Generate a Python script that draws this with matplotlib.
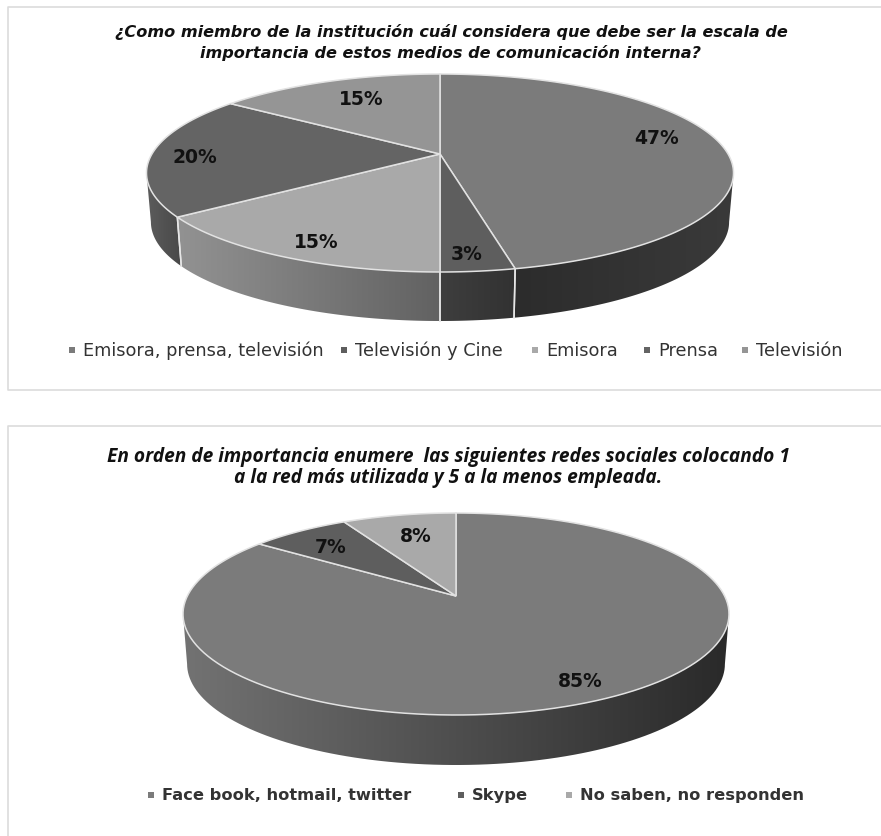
# Two fake-3D pies, drawn in pixel coordinates of the page
import numpy as np
import matplotlib
matplotlib.use("Agg")
import matplotlib.pyplot as plt
from matplotlib.patches import Polygon

# first chart
title_1 = "¿Como miembro de la institución cuál considera que debe ser la escala de\nimportancia de estos medios de comunicación interna?"
names_1 = ["Emisora, prensa, televisión", "Televisión y Cine", "Emisora", "Prensa", "Televisión"]
values_1 = [46.6, 3.4, 15, 20, 15]
labels_1 = ["47%", "3%", "15%", "20%", "15%"]

# second chart
title_2 = "En orden de importancia enumere  las siguientes redes sociales colocando 1\na la red más utilizada y 5 a la menos empleada."
names_2 = ["Face book, hotmail, twitter", "Skype", "No saben, no responden"]
values_2 = [85, 7, 8]
labels_2 = ["85%", "7%", "8%"]

face_1 = ["#7b7b7b", "#5e5e5e", "#a9a9a9", "#646464", "#959595"]
side_1 = [("#2c2c2c", "#3a3a3a"), ("#3e3e3e", "#323232"), ("#929292", "#626262"), ("#5c5c5c", "#484848"), ("#777777", "#777777")]
face_2 = ["#7b7b7b", "#5e5e5e", "#a9a9a9"]
side_2 = [("#727272", "#2a2a2a"), ("#444444", "#444444"), ("#777777", "#777777")]

fig = plt.figure(figsize=(8.81, 8.37), dpi=100, facecolor="white")
ax = fig.add_axes([0, 0, 1, 1])


def draw_pie(values, labels, faces, sides, cx, cy, rx, ry, apex, depth, lab_r, lab_turn):
    # cx,cy centre of the tilted ellipse, apex = how far the pie centre sits above it
    k = apex / ry
    a = rx * np.sqrt(1 - k * k)

    def project(deg, r=1.0):
        t = np.radians(deg)
        u, v = r * np.sin(t), r * np.cos(t)
        d = 1 + k * v
        return cx + a * u / d, cy - (ry * v + apex) / d

    cuts = np.concatenate([[0], np.cumsum(values)]) * 360 / sum(values)
    right = np.degrees(np.arccos(-k))
    left = 360 - right

    # sides first
    for i in range(len(values)):
        t1, t2 = max(cuts[i], right), min(cuts[i + 1], left)
        if t2 <= t1:
            continue
        tt = np.linspace(t1, t2, 100)
        x, y = project(tt)
        xb = cx + (x - cx) * 0.985
        yb = y + depth
        pts = np.r_[np.c_[x, y], np.c_[xb, yb][::-1]]
        # colours go left to right, tt runs right to left
        c1 = np.array(matplotlib.colors.to_rgb(sides[i][0]))
        c2 = np.array(matplotlib.colors.to_rgb(sides[i][1]))
        grad = np.linspace(c1, c2, 64)[None, :, :]
        im = ax.imshow(grad, extent=[pts[:, 0].min(), pts[:, 0].max(), pts[:, 1].max(), pts[:, 1].min()],
                       aspect="auto", interpolation="bilinear", zorder=2)
        im.set_clip_path(Polygon(pts, transform=ax.transData))
        # white seams down the side
        for t, xx, yy, yy2, xx2 in [(t1, x[0], y[0], yb[0], xb[0]), (t2, x[-1], y[-1], yb[-1], xb[-1])]:
            if t in cuts:
                ax.plot([xx, xx2], [yy, yy2], color="#e6e6e6", lw=1.1, zorder=3)

    # top slices
    apex_xy = project(0, 0)
    for i in range(len(values)):
        tt = np.linspace(cuts[i], cuts[i + 1], 150)
        x, y = project(tt)
        pts = np.r_[[apex_xy], np.c_[x, y]]
        ax.add_patch(Polygon(pts, closed=True, facecolor=faces[i], edgecolor="#e2e2e2", lw=1.1, zorder=4))

    # percent labels
    for i in range(len(values)):
        mid = (cuts[i] + cuts[i + 1]) / 2 + lab_turn[i]
        x, y = project(mid, lab_r[i])
        ax.text(x, y, labels[i], ha="center", va="center", fontsize=13.5, fontweight="bold",
                family="DejaVu Sans", color="#111111", zorder=5)


draw_pie(values_1, labels_1, face_1, side_1, 440, 174, 293.5, 99, 19, 49,
         [0.80, 0.87, 0.863, 0.847, 0.729], [-7, 1, -2, -2, 2])
draw_pie(values_2, labels_2, face_2, side_2, 456, 615, 273, 101, 18, 50,
         [0.851, 0.76, 0.72], [-1, -1, 1])

# titles
ax.text(451, 32, title_1.split("\n")[0], ha="center", va="center", family="DejaVu Sans", fontsize=11.6,
        fontweight="bold", style="italic", color="#111111")
ax.text(451, 53, title_1.split("\n")[1], ha="center", va="center", family="DejaVu Sans", fontsize=11.6,
        fontweight="bold", style="italic", color="#111111")
ax.text(448, 457, title_2.split("\n")[0], ha="center", va="center", family="Open Sans", fontsize=13.8,
        fontweight="bold", style="italic", color="#111111")
ax.text(448, 478, title_2.split("\n")[1], ha="center", va="center", family="Open Sans", fontsize=13.8,
        fontweight="bold", style="italic", color="#111111")

# legends
leg_x_1 = [72, 344, 535, 647, 745]
for x, name, col in zip(leg_x_1, names_1, face_1):
    ax.scatter([x], [351], marker="s", s=16, color=col, zorder=5, linewidths=0)
    ax.text(x + 11, 351, name, ha="left", va="center", family="DejaVu Sans", fontsize=12.8, color="#333333")
leg_x_2 = [151, 461, 569]
for x, name, col in zip(leg_x_2, names_2, face_2):
    ax.scatter([x], [796], marker="s", s=18, color=col, zorder=5, linewidths=0)
    ax.text(x + 11, 796, name, ha="left", va="center", family="DejaVu Sans", fontsize=11.7,
            fontweight="bold", color="#333333")

# frames of the two chart boxes
ax.plot([881, 8, 8, 881], [8, 8, 391, 391], color="#dcdcdc", lw=1.2, zorder=1)
ax.plot([881, 8, 8], [427, 427, 837], color="#dcdcdc", lw=1.2, zorder=1)

ax.set_xlim(0, 881)
ax.set_ylim(837, 0)
ax.axis("off")
fig.savefig("out.png", dpi=100)
